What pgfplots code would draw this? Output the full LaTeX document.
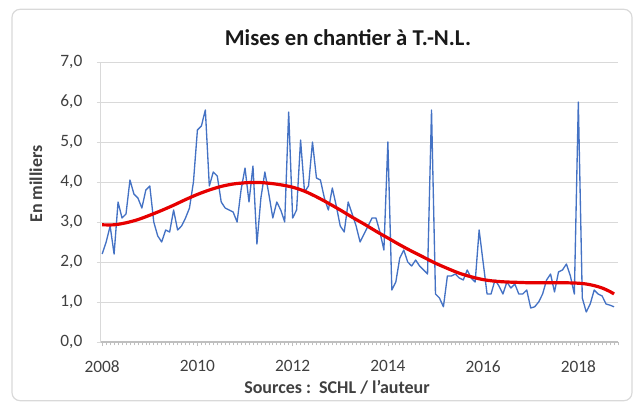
\documentclass[border=0pt]{standalone}
\usepackage{fontspec}
\setmainfont{Carlito}
\usepackage{pgfplots}
\usepackage{pgfplotstable}
\pgfplotsset{compat=1.18}
\definecolor{blueline}{HTML}{4472C4}
\definecolor{redline}{HTML}{E60000}
\definecolor{gridc}{HTML}{D9D9D9}
\definecolor{axisc}{HTML}{BFBFBF}
\definecolor{labc}{HTML}{404040}

\pgfplotstableread{
m v
0 2.2
1 2.5
2 2.9
3 2.2
4 3.5
5 3.1
6 3.2
7 4.05
8 3.7
9 3.6
10 3.35
11 3.8
12 3.9
13 3.0
14 2.65
15 2.5
16 2.8
17 2.75
18 3.3
19 2.8
20 2.9
21 3.1
22 3.35
23 4.0
24 5.3
25 5.4
26 5.8
27 3.9
28 4.25
29 4.15
30 3.5
31 3.35
32 3.3
33 3.25
34 3.0
35 3.8
36 4.35
37 3.5
38 4.4
39 2.45
40 3.6
41 4.25
42 3.7
43 3.1
44 3.5
45 3.3
46 3.0
47 5.75
48 3.1
49 3.3
50 5.05
51 3.75
52 3.9
53 5.0
54 4.1
55 4.05
56 3.6
57 3.3
58 3.85
59 3.4
60 2.9
61 2.75
62 3.5
63 3.2
64 2.9
65 2.5
66 2.7
67 2.9
68 3.1
69 3.1
70 2.75
71 2.3
72 5.0
73 1.3
74 1.5
75 2.1
76 2.3
77 2.0
78 1.9
79 2.05
80 1.9
81 1.8
82 1.7
83 5.8
84 1.2
85 1.1
86 0.88
87 1.65
88 1.65
89 1.7
90 1.6
91 1.55
92 1.8
93 1.6
94 1.5
95 2.8
96 2.0
97 1.2
98 1.2
99 1.55
100 1.4
101 1.2
102 1.5
103 1.35
104 1.45
105 1.2
106 1.2
107 1.3
108 0.85
109 0.88
110 1.0
111 1.2
112 1.55
113 1.7
114 1.25
115 1.75
116 1.8
117 1.95
118 1.65
119 1.2
120 6.0
121 1.1
122 0.75
123 0.95
124 1.3
125 1.2
126 1.15
127 0.95
128 0.92
129 0.88
}\mises

\pgfplotstableread{
m v
0 2.93
3 2.93
6 2.98
9 3.06
12 3.17
15 3.29
18 3.42
21 3.56
24 3.69
27 3.80
30 3.89
33 3.95
36 3.98
39 3.99
42 3.97
45 3.93
48 3.87
51 3.77
54 3.63
57 3.47
60 3.30
63 3.12
66 2.95
69 2.77
72 2.60
75 2.43
78 2.27
81 2.12
84 1.97
87 1.84
90 1.72
93 1.63
96 1.56
99 1.52
102 1.50
105 1.49
108 1.48
111 1.48
114 1.48
117 1.48
120 1.47
122 1.45
124 1.41
126 1.35
128 1.26
129 1.20
}\trend

\begin{document}
\begin{tikzpicture}
\useasboundingbox (0,0) rectangle (480pt,303pt);
\draw[gridc, line width=0.9pt, rounded corners=6pt] (9pt,2.5pt) rectangle (474pt,296pt);
\begin{axis}[
  at={(75.75pt,46.5pt)}, anchor=south west,
  scale only axis, width=387.75pt, height=210pt,
  xmin=-0.3, xmax=130, ymin=0, ymax=7,
  xtick={0,24,48,72,96,120},
  xticklabels={2008,2010,2012,2014,2016,2018},
  minor xtick={0,1,...,130},
  ytick={0,1,...,7},
  ymajorgrids,
  major grid style={gridc, line width=0.75pt},
  axis x line*=bottom, axis y line*=left,
  x axis line style={axisc, line width=1.2pt},
  y axis line style={gridc, line width=0.75pt},
  tick align=outside,
  major tick length=3pt, minor tick length=2.5pt,
  xtick style={axisc, line width=0.5pt},
  minor tick style={axisc, line width=0.4pt},
  ytick style={gridc, line width=0.75pt},
  tick label style={font=\fontsize{13}{15}\selectfont, color=labc},
  xticklabel style={yshift=-7.5pt},
  /pgf/number format/assume math mode=true,
  yticklabel style={xshift=-7.5pt, /pgf/number format/.cd, fixed, fixed zerofill, precision=1, use comma},
  clip=false,
]
\addplot[blueline, line width=1pt, line join=round, mark=none] table[x=m, y=v] {\mises};
\addplot[redline, line width=2.4pt, smooth, mark=none] table[x=m, y=v] {\trend};
\end{axis}
\node[font=\fontsize{17}{20}\selectfont\bfseries, text=black!90] at (261pt,275pt) {Mises en chantier à T.-N.L.};
\node[font=\fontsize{13.5}{16}\selectfont\bfseries, text=labc] at (252.75pt,12.5pt) {Sources :\ \ SCHL / l'auteur};
\node[font=\fontsize{13.5}{16}\selectfont\bfseries, text=labc, rotate=90] at (27pt,165pt) {En milliers};
\end{tikzpicture}
\end{document}
